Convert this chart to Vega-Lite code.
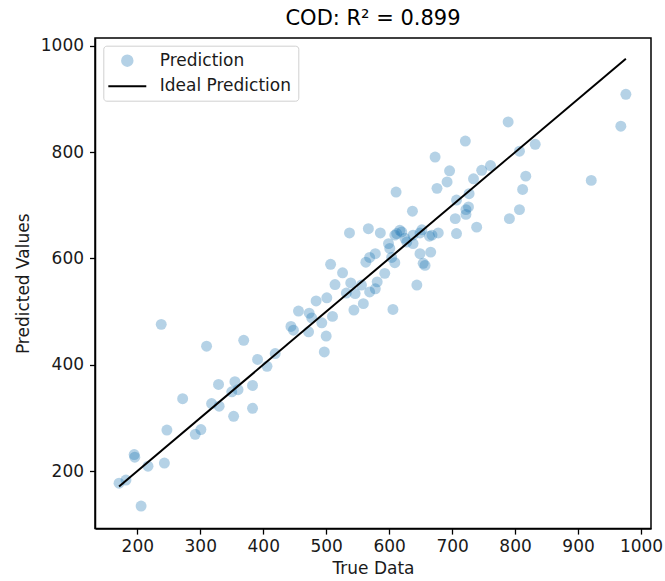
{
  "$schema": "https://vega.github.io/schema/vega-lite/v6.json",
  "width": 556,
  "height": 490.6,
  "autosize": {"type": "none"},
  "padding": {"left": 95, "top": 38, "right": 14, "bottom": 52},
  "background": "white",
  "config": {
    "font": "DejaVu Sans",
    "view": {"stroke": "black", "strokeWidth": 1.5},
    "axis": {
      "grid": false,
      "domainColor": "black",
      "domainWidth": 1.5,
      "tickColor": "black",
      "tickWidth": 1.3,
      "tickSize": 5.5,
      "labelFontSize": 17,
      "labelColor": "#1a1a1a",
      "labelFont": "DejaVu Sans",
      "titleFontSize": 17,
      "titleFontWeight": "normal",
      "titleColor": "#1a1a1a",
      "titleFont": "DejaVu Sans",
      "format": "d"
    }
  },
  "title": {"text": "COD: R² = 0.899", "fontSize": 21, "fontWeight": "normal", "font": "DejaVu Sans", "color": "black", "offset": 8},
  "datasets": {
    "pred": [
      {"actual":171,"predicted":177},{"actual":182,"predicted":183},{"actual":206,"predicted":134},{"actual":195,"predicted":231},
      {"actual":196,"predicted":226},{"actual":217,"predicted":209},{"actual":243,"predicted":215},{"actual":247,"predicted":277},
      {"actual":238,"predicted":476},{"actual":272,"predicted":336},{"actual":292,"predicted":269},{"actual":301,"predicted":278},
      {"actual":310,"predicted":435},{"actual":318,"predicted":327},{"actual":330,"predicted":322},{"actual":329,"predicted":363},
      {"actual":350,"predicted":349},{"actual":353,"predicted":303},{"actual":355,"predicted":368},{"actual":360,"predicted":353},
      {"actual":369,"predicted":446},{"actual":383,"predicted":361},{"actual":383,"predicted":318},{"actual":391,"predicted":410},
      {"actual":406,"predicted":397},{"actual":419,"predicted":421},{"actual":444,"predicted":472},{"actual":448,"predicted":465},
      {"actual":456,"predicted":501},{"actual":472,"predicted":462},{"actual":473,"predicted":497},{"actual":477,"predicted":488},
      {"actual":484,"predicted":520},{"actual":493,"predicted":479},{"actual":497,"predicted":424},{"actual":500,"predicted":454},
      {"actual":501,"predicted":526},{"actual":507,"predicted":589},{"actual":510,"predicted":491},{"actual":514,"predicted":551},
      {"actual":526,"predicted":573},{"actual":532,"predicted":535},{"actual":537,"predicted":648},{"actual":539,"predicted":554},
      {"actual":544,"predicted":503},{"actual":546,"predicted":534},{"actual":556,"predicted":550},{"actual":559,"predicted":515},
      {"actual":567,"predicted":656},{"actual":563,"predicted":593},{"actual":569,"predicted":602},{"actual":569,"predicted":537},
      {"actual":578,"predicted":609},{"actual":578,"predicted":543},{"actual":581,"predicted":556},{"actual":586,"predicted":648},
      {"actual":593,"predicted":572},{"actual":599,"predicted":628},{"actual":601,"predicted":619},{"actual":604,"predicted":602},
      {"actual":606,"predicted":504},{"actual":609,"predicted":592},{"actual":609,"predicted":644},{"actual":611,"predicted":725},
      {"actual":612,"predicted":647},{"actual":617,"predicted":653},{"actual":620,"predicted":650},{"actual":625,"predicted":638},
      {"actual":628,"predicted":631},{"actual":638,"predicted":628},{"actual":638,"predicted":644},{"actual":637,"predicted":689},
      {"actual":644,"predicted":550},{"actual":649,"predicted":609},{"actual":649,"predicted":648},{"actual":652,"predicted":654},
      {"actual":654,"predicted":591},{"actual":657,"predicted":587},{"actual":664,"predicted":642},{"actual":666,"predicted":612},
      {"actual":668,"predicted":644},{"actual":673,"predicted":791},{"actual":676,"predicted":732},{"actual":678,"predicted":648},
      {"actual":692,"predicted":744},{"actual":696,"predicted":765},{"actual":705,"predicted":675},{"actual":707,"predicted":647},
      {"actual":707,"predicted":710},{"actual":721,"predicted":821},{"actual":722,"predicted":692},{"actual":722,"predicted":683},
      {"actual":726,"predicted":697},{"actual":727,"predicted":722},{"actual":734,"predicted":750},{"actual":739,"predicted":659},
      {"actual":747,"predicted":766},{"actual":761,"predicted":775},{"actual":789,"predicted":857},{"actual":791,"predicted":675},
      {"actual":807,"predicted":802},{"actual":807,"predicted":692},{"actual":812,"predicted":730},{"actual":817,"predicted":755},
      {"actual":832,"predicted":815},{"actual":921,"predicted":747},{"actual":968,"predicted":849},{"actual":976,"predicted":909}
    ],
    "ideal": [
      {"actual":171,"predicted":171},{"actual":976,"predicted":976}
    ]
  },
  "layer": [
    {
      "data": {"name": "pred"},
      "mark": {"type": "circle", "size": 120, "opacity": 0.33},
      "encoding": {
        "x": {
          "field": "actual", "type": "quantitative",
          "scale": {"domain": [132.8, 1015.9], "nice": false, "zero": false},
          "axis": {"values": [200,300,400,500,600,700,800,900,1000], "title": "True Data", "labelPadding": 4, "titlePadding": 6}
        },
        "y": {
          "field": "predicted", "type": "quantitative",
          "scale": {"domain": [91.6, 1015], "nice": false, "zero": false},
          "axis": {"values": [200,400,600,800,1000], "title": "Predicted Values", "labelPadding": 6, "titlePadding": 8}
        },
        "color": {
          "datum": "Prediction", "type": "nominal",
          "scale": {"domain": ["Prediction", "Ideal Prediction"], "range": ["#1f77b4", "black"]},
          "legend": {
            "title": null,
            "orient": "none",
            "legendX": 8.3,
            "legendY": 7.7,
            "padding": 6.5,
            "symbolSize": 110,
            "symbolStrokeWidth": 2,
            "symbolOffset": 9,
            "symbolOpacity": 1,
            "labelOffset": 24,
            "rowPadding": 6.5,
            "labelFontSize": 17,
            "labelColor": "#1a1a1a",
            "labelFont": "DejaVu Sans",
            "labelLimit": 300,
            "strokeColor": "#d0d0d0",
            "fillColor": "white",
            "cornerRadius": 3,
            "encode": {
              "symbols": {
                "update": {
                  "shape": {"signal": "datum.value === 'Prediction' ? 'circle' : 'M-3.62,0H3.62'"},
                  "fill": {"signal": "datum.value === 'Prediction' ? '#1f77b4' : 'transparent'"},
                  "stroke": {"signal": "datum.value === 'Prediction' ? 'transparent' : 'black'"},
                  "opacity": {"signal": "datum.value === 'Prediction' ? 0.33 : 1"}
                }
              }
            }
          }
        }
      }
    },
    {
      "data": {"name": "ideal"},
      "mark": {"type": "line", "strokeWidth": 2},
      "encoding": {
        "x": {"field": "actual", "type": "quantitative"},
        "y": {"field": "predicted", "type": "quantitative"},
        "color": {"datum": "Ideal Prediction", "type": "nominal"}
      }
    }
  ]
}
